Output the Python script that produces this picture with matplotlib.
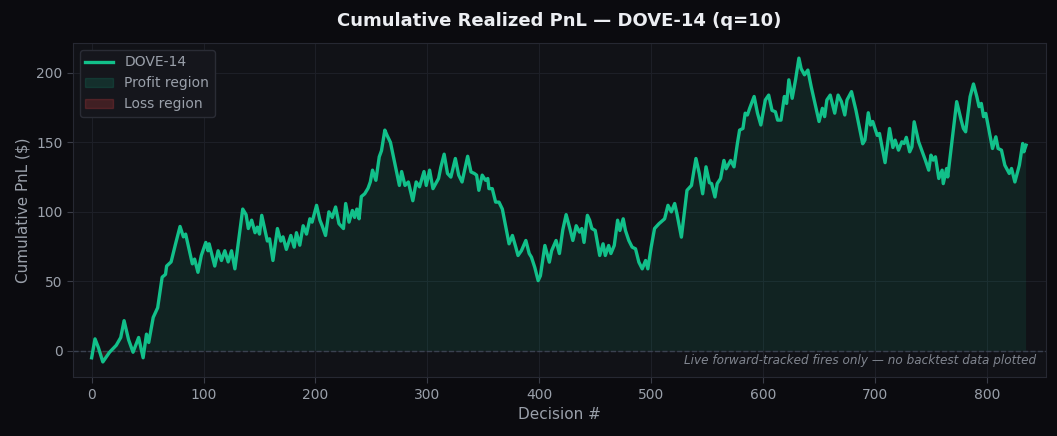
import numpy as np
import matplotlib
matplotlib.use("Agg")
import matplotlib.pyplot as plt
from matplotlib.patches import Patch

# Dados: número da decisão e PnL acumulado
decisoes = [
    0, 3, 6, 10, 16, 22, 26, 29, 33, 37, 42, 46, 49, 51, 55, 59, 63, 66, 67, 71,
    75, 79, 82, 84, 90, 92, 95, 98, 102, 104, 105, 110, 113, 116, 119, 122, 125, 128, 135, 138,
    140, 143, 146, 148, 150, 152, 157, 159, 162, 166, 169, 171, 174, 178, 181, 183, 186, 189, 192, 195,
    197, 201, 204, 206, 209, 212, 215, 218, 221, 225, 227, 230, 233, 235, 237, 239, 241, 244, 247, 249,
    251, 254, 257, 259, 262, 264, 267, 275, 277, 280, 283, 287, 290, 293, 297, 299, 302, 305, 310, 312,
    315, 318, 321, 325, 328, 331, 336, 339, 342, 344, 346, 349, 352, 354, 355, 358, 361, 364, 367, 373,
    376, 379, 381, 384, 388, 391, 393, 396, 399, 401, 405, 409, 411, 415, 418, 421, 424, 427, 430, 433,
    436, 438, 440, 443, 445, 447, 450, 454, 457, 459, 462, 464, 467, 470, 472, 475, 477, 480, 483, 486,
    489, 492, 495, 497, 500, 503, 507, 512, 515, 518, 521, 523, 527, 532, 536, 540, 543, 546, 549, 552,
    554, 557, 559, 562, 565, 567, 571, 574, 577, 579, 582, 584, 586, 588, 592, 595, 598, 602, 605, 608,
    611, 613, 616, 619, 621, 623, 626, 629, 632, 634, 637, 640, 643, 650, 653, 655, 657, 660, 664, 667,
    670, 673, 675, 679, 683, 689, 691, 694, 696, 698, 702, 704, 709, 713, 716, 718, 721, 724, 726, 728,
    731, 733, 735, 739, 745, 748, 750, 752, 754, 757, 760, 761, 764, 765, 773, 777, 779, 781, 785, 788,
    791, 793, 795, 797, 799, 805, 808, 810, 813, 816, 820, 822, 825, 829, 832, 833, 835,
]
pnl = [
    -5, 8.6, 2.4, -8, -1, 4, 9.6, 21.7, 8, -1, 9.6, -5, 12, 6, 24, 31, 53, 55, 61, 64,
    77, 89.5, 82, 84, 62.6, 66, 56.5, 68.6, 78, 72, 77, 61, 72, 65, 72, 64, 72, 59, 102, 98,
    88, 94, 85, 89, 84, 97.5, 79, 80.6, 65, 88, 79, 82, 73, 83, 74.6, 85, 76, 90, 84, 95,
    92.6, 104.7, 94, 90, 83, 100, 96, 103.5, 91.5, 88, 106, 92.6, 101, 96, 102, 95, 111, 113, 117, 121.5,
    130, 122.7, 139.6, 144, 158.8, 155, 150, 119, 129, 119, 121.5, 108, 121.5, 118, 129, 119, 130, 116.7, 124, 132,
    141.5, 127.6, 125, 138.4, 126.4, 121.5, 140, 128.7, 127.6, 126.4, 115.5, 126.4, 122.7, 124, 116.7, 116.7, 107, 107, 102, 77,
    83, 74.6, 68.6, 72, 79.4, 70, 67.4, 60, 50.5, 54, 75.8, 63.8, 72, 79.4, 70, 87, 98, 89, 79.4, 90,
    85.4, 88, 78, 97.5, 94, 88, 86.6, 68.6, 77, 68.6, 75.8, 70, 75.8, 94, 86.6, 95, 86.6, 79.4, 74.6, 73.4,
    63.8, 59, 65, 59, 74.6, 88, 91.5, 95, 104.7, 100, 106, 98.7, 81.8, 115.5, 119, 138.4, 127.6, 113, 132.4, 121,
    120.3, 110.7, 120.3, 124, 137, 131, 137, 132.4, 149, 158.8, 160, 171, 169.7, 174.5, 183, 171, 162.5, 180.5, 184, 173,
    172, 166, 166, 183, 178, 195, 181.7, 195, 210.6, 203, 198.6, 202, 190, 165, 174.5, 168.5, 180.5, 184, 171, 184,
    179.3, 169.7, 180.5, 186.5, 173, 149, 151.6, 171.3, 162.5, 165, 155, 156.4, 135.4, 160, 146.3, 151.6, 144.4, 150.4, 149.2, 153.6,
    143.2, 146.8, 164.8, 150.4, 137.2, 130, 140.8, 137.2, 139.6, 124, 130, 120.3, 131.2, 125.1, 179.3, 166, 160, 157.6, 182.9, 192,
    182.9, 175.7, 178, 168.5, 170.8, 145.6, 154, 145.6, 144.4, 133.6, 127.6, 131.2, 121.5, 133.6, 149.2, 143.2, 148,
]
n_decisoes = 836

# Cores do tema escuro
FUNDO = "#0b0b0f"
PAINEL = "#111217"
VERDE = "#12c08a"
VERMELHO = "#ef4444"
TEXTO = "#9aa0aa"

x = np.array(decisoes)
y = np.array(pnl)

fig = plt.figure(figsize=(10.57, 4.36), dpi=100, facecolor=FUNDO)
ax = fig.add_axes([0.069, 0.135, 0.9205, 0.7665])
ax.set_facecolor(PAINEL)

# Regiões de lucro e prejuízo
ax.fill_between(x, y, 0, where=y >= 0, interpolate=True, color=VERDE, alpha=0.10, linewidth=0)
ax.fill_between(x, y, 0, where=y < 0, interpolate=True, color=VERMELHO, alpha=0.15, linewidth=0)
ax.plot(x, y, color=VERDE, linewidth=2.4, solid_joinstyle="round", zorder=3)
ax.axhline(0, color="#3a4150", linestyle="--", linewidth=1, zorder=2)

ax.set_xlim(-0.02 * n_decisoes, 1.02 * n_decisoes)
ax.margins(y=0.05)

# Grelha e eixos
ax.grid(color="#1d1f27", linewidth=0.8)
ax.set_axisbelow(True)
for s in ax.spines.values():
    s.set_color("#262832")
ax.tick_params(colors=TEXTO, labelsize=10, length=4)
ax.tick_params(axis="both", color="#3a3d47")

ax.set_title("Cumulative Realized PnL — DOVE-14 (q=10)", color="#eceef2",
             fontsize=13, fontweight="bold", pad=12)
ax.set_xlabel("Decision #", color=TEXTO, fontsize=11)
ax.set_ylabel("Cumulative PnL ($)", color=TEXTO, fontsize=11)

ax.text(0.99, 0.03, "Live forward-tracked fires only — no backtest data plotted",
        transform=ax.transAxes, ha="right", va="bottom", fontsize=8.65,
        style="italic", color="#80858f")

# Legenda
handles = [
    plt.Line2D([], [], color=VERDE, linewidth=2.4, label="DOVE-14"),
    Patch(facecolor=VERDE, alpha=0.15, edgecolor=VERDE, label="Profit region"),
    Patch(facecolor=VERMELHO, alpha=0.2, edgecolor=VERMELHO, label="Loss region"),
]
leg = ax.legend(handles=handles, loc="upper left", fontsize=10, facecolor="#15161c",
                edgecolor="#2a2c35", labelcolor=TEXTO, framealpha=1)

fig.savefig("out.png", dpi=100, facecolor=FUNDO)
